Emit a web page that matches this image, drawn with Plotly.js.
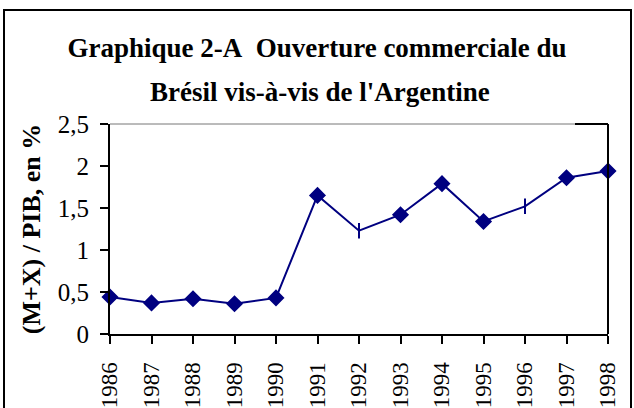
<!DOCTYPE html>
<html>
<head>
<meta charset="utf-8">
<script src="https://cdn.plot.ly/plotly-3.0.1.min.js"></script>
<style>
  html, body { margin: 0; padding: 0; background: #fff; overflow: hidden; }
  #wrap { position: relative; width: 634px; height: 408px; }
  #chart { position: absolute; left: 0; top: 0; width: 634px; height: 408px; }
  #frame { position: absolute; left: 3px; top: 9px; width: 625px; height: 420px;
           border: 2.5px solid #000; pointer-events: none; }
</style>
</head>
<body>
<div id="wrap">
  <div id="chart"></div>
  <div id="frame"></div>
</div>
<script>
// Data
var years = ['1986','1987','1988','1989','1990','1991','1992','1993','1994','1995','1996','1997','1998'];
var ratio = [0.44, 0.37, 0.42, 0.36, 0.43, 1.65, 1.23, 1.42, 1.79, 1.34, 1.52, 1.86, 1.94];
var markerSymbols = ['diamond','diamond','diamond','diamond','diamond','diamond','line-ns',
                     'diamond','diamond','diamond','line-ns','diamond','diamond'];
var titleLine1 = 'Graphique 2-A\u00a0 Ouverture commerciale du';
var titleLine2 = "Brésil vis-à-vis de l'Argentine";
var yTitle = '(M+X) / PIB, en %';

var navy = '#000080';
var serif = '"Liberation Serif", "Times New Roman", Times, serif';

var trace = {
  type: 'scatter',
  mode: 'lines+markers',
  x: years,
  y: ratio,
  line: { color: navy, width: 2 },
  marker: { symbol: markerSymbols, size: 11, color: navy,
            line: { color: navy, width: 2 } },
  cliponaxis: false,
  hoverinfo: 'x+y'
};

var layout = {
  width: 634, height: 408,
  margin: { l: 110, r: 26, t: 124, b: 74, pad: 0 },
  paper_bgcolor: '#fff', plot_bgcolor: '#fff',
  separators: ', ',
  showlegend: false,
  font: { family: serif, color: '#000', size: 24 },
  title: {
    text: titleLine1,
    font: { family: serif, size: 27, color: '#000', weight: 'bold' },
    x: 0.5, xref: 'container', xanchor: 'center',
    y: 1 - 48/408, yref: 'container', yanchor: 'middle'
  },
  annotations: [{
    text: titleLine2, showarrow: false,
    xref: 'paper', yref: 'paper', x: (320-110)/498, y: (334-92)/210,
    xanchor: 'center', yanchor: 'middle',
    font: { family: serif, size: 27, color: '#000', weight: 'bold' }
  }],
  xaxis: {
    type: 'category',
    range: [0, 12],
    showgrid: false, zeroline: false,
    showline: true, linecolor: '#000', linewidth: 2,
    ticks: 'outside', ticklen: 8, tickwidth: 2, tickcolor: '#000',
    tickangle: -90, ticklabelstandoff: 9,
    tickfont: { family: serif, size: 23, color: '#000' },
    fixedrange: true
  },
  yaxis: {
    range: [0, 2.5], dtick: 0.5, tick0: 0,
    showgrid: false, zeroline: false,
    showline: true, linecolor: '#000', linewidth: 2,
    ticks: 'outside', ticklen: 8, tickwidth: 2, tickcolor: '#000',
    ticklabelstandoff: 6,
    tickfont: { family: serif, size: 25, color: '#000' },
    title: { text: yTitle, standoff: 10,
             font: { family: serif, size: 26, color: '#000', weight: 'bold' } },
    fixedrange: true
  },
  shapes: [
    { type: 'line', xref: 'paper', yref: 'paper', x0: 0, x1: 1, y0: 1, y1: 1,
      line: { color: '#777', width: 1 } },
    { type: 'line', xref: 'paper', yref: 'paper', x0: (575-110)/498, x1: 1, y0: 1, y1: 1,
      line: { color: '#000', width: 2 } },
    { type: 'line', xref: 'paper', yref: 'paper', x0: 1, x1: 1, y0: 0, y1: 1,
      line: { color: '#000', width: 2 } }
  ]
};

Plotly.newPlot('chart', [trace], layout, { displayModeBar: false, staticPlot: true });
</script>
</body>
</html>
